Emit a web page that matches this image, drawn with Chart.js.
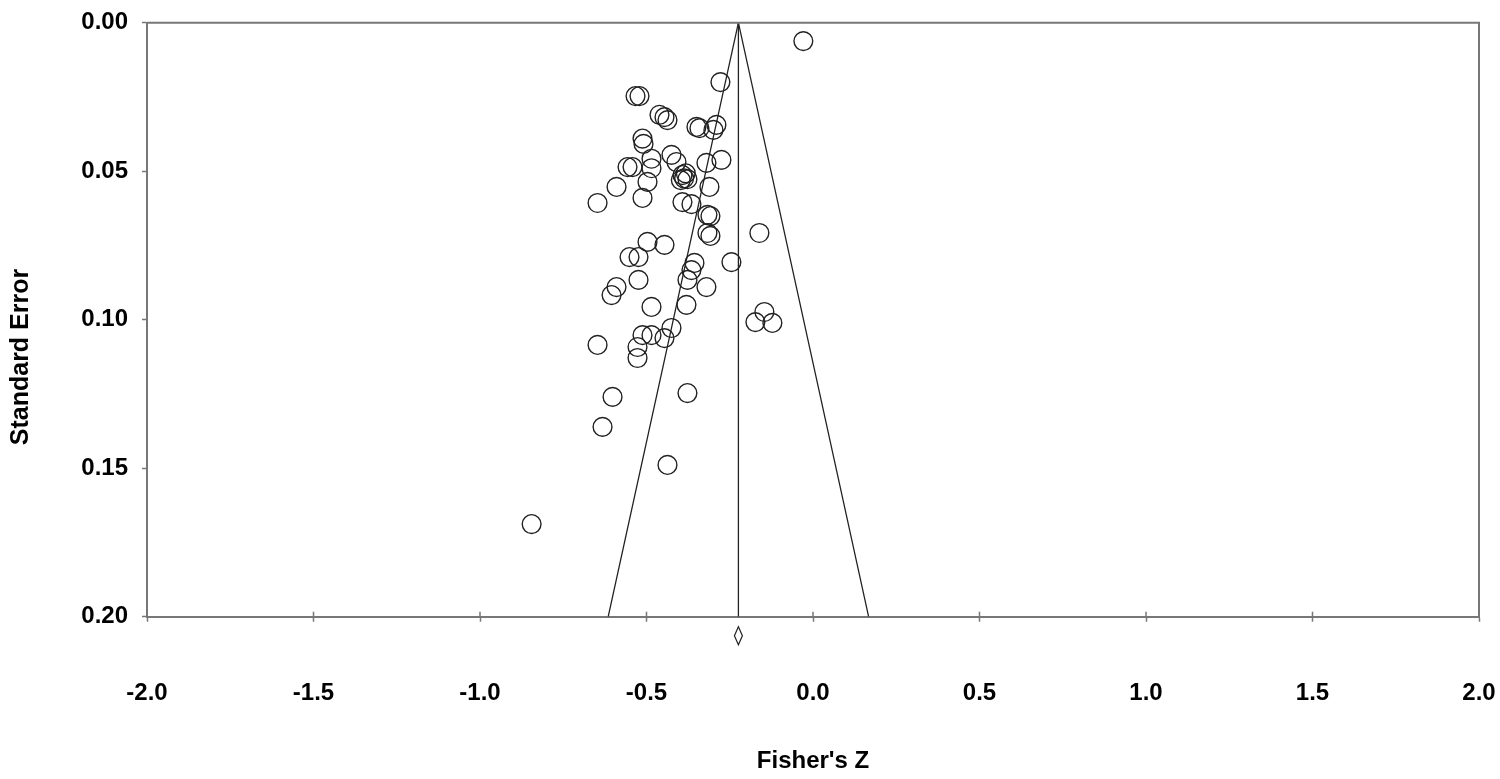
<!DOCTYPE html>
<html>
<head>
<meta charset="utf-8">
<script src="https://cdn.jsdelivr.net/npm/chart.js@4.4.1/dist/chart.umd.min.js"></script>
<style>
  html, body { margin: 0; padding: 0; background: #fff; }
  #wrap { width: 1500px; height: 779px; }
</style>
</head>
<body>
<div id="wrap"><canvas id="funnelChart"></canvas></div>
<script>
// Study effects (Fisher's Z) and their standard errors
const fisherZ = [
  -0.029, -0.278, -0.533, -0.521, -0.461, -0.446, -0.437, -0.350, -0.341, -0.290,
  -0.299, -0.512, -0.509, -0.485, -0.542, -0.557, -0.425, -0.410, -0.485, -0.497,
  -0.512, -0.392, -0.382, -0.387, -0.397, -0.377, -0.320, -0.275, -0.311, -0.590,
  -0.647, -0.392, -0.365, -0.317, -0.308, -0.317, -0.308, -0.161, -0.497, -0.446,
  -0.551, -0.524, -0.245, -0.356, -0.365, -0.377, -0.320, -0.590, -0.605, -0.524,
  -0.485, -0.380, -0.146, -0.173, -0.122, -0.425, -0.512, -0.485, -0.446, -0.527,
  -0.527, -0.647, -0.602, -0.377, -0.632, -0.437, -0.845
];
const stdError = [
  0.0062, 0.0200, 0.0247, 0.0247, 0.0310, 0.0318, 0.0328, 0.0351, 0.0355, 0.0344,
  0.0361, 0.0390, 0.0408, 0.0458, 0.0486, 0.0486, 0.0445, 0.0469, 0.0490, 0.0536,
  0.0590, 0.0513, 0.0507, 0.0524, 0.0530, 0.0527, 0.0472, 0.0462, 0.0553, 0.0553,
  0.0607, 0.0604, 0.0611, 0.0647, 0.0651, 0.0708, 0.0718, 0.0708, 0.0738, 0.0748,
  0.0789, 0.0789, 0.0806, 0.0809, 0.0833, 0.0866, 0.0890, 0.0890, 0.0917, 0.0866,
  0.0957, 0.0950, 0.0974, 0.1008, 0.1011, 0.1028, 0.1052, 0.1052, 0.1062, 0.1092,
  0.1129, 0.1085, 0.1260, 0.1247, 0.1361, 0.1489, 0.1688
];

// Funnel outline and pooled estimate
const funnelZ = [-0.615, -0.224, 0.167];
const funnelSE = [0.20, 0.00, 0.20];
const pooledZ = -0.224;
const pooledCI = [-0.236, -0.212];

const xTicks = [-2.0, -1.5, -1.0, -0.5, 0.0, 0.5, 1.0, 1.5, 2.0];
const yTicks = [0.00, 0.05, 0.10, 0.15, 0.20];

const FONT = "'Liberation Sans', Arial, sans-serif";
const INK = '#222222';
const AXIS = '#777777';

// box round the plot, inward halves of x ticks, pooled diamond, y title
const extras = {
  id: 'extras',
  afterDraw(chart) {
    const { ctx, chartArea: a, scales } = chart;
    const xs = scales.x;
    ctx.save();
    ctx.strokeStyle = AXIS;
    ctx.lineWidth = 2;
    ctx.beginPath();
    ctx.moveTo(a.left, a.top);
    ctx.lineTo(a.right, a.top);
    ctx.lineTo(a.right, a.bottom);
    ctx.stroke();

    ctx.lineWidth = 1.5;
    xs.ticks.forEach((t, i) => {
      const px = xs.getPixelForTick(i);
      ctx.beginPath();
      ctx.moveTo(px, a.bottom);
      ctx.lineTo(px, a.bottom - 5);
      ctx.stroke();
    });

    // pooled estimate diamond under the axis
    const xc = xs.getPixelForValue(pooledZ);
    const xl = xs.getPixelForValue(pooledCI[0]);
    const xr = xs.getPixelForValue(pooledCI[1]);
    const yc = a.bottom + 19;
    ctx.strokeStyle = INK;
    ctx.lineWidth = 1.2;
    ctx.beginPath();
    ctx.moveTo(xl, yc);
    ctx.lineTo(xc, yc - 9);
    ctx.lineTo(xr, yc);
    ctx.lineTo(xc, yc + 9);
    ctx.closePath();
    ctx.stroke();

    // y axis title
    ctx.fillStyle = '#000';
    ctx.font = 'bold 25px ' + FONT;
    ctx.textAlign = 'center';
    ctx.textBaseline = 'middle';
    ctx.translate(21, 357);
    ctx.rotate(-Math.PI / 2);
    ctx.fillText('Standard Error', 0, 0);
    ctx.restore();
  }
};

const ctx = document.getElementById('funnelChart').getContext('2d');
new Chart(ctx, {
  type: 'scatter',
  data: {
    datasets: [
      {
        label: 'Studies',
        data: fisherZ.map((z, i) => ({ x: z, y: stdError[i] })),
        pointStyle: 'circle',
        pointRadius: 9.4,
        pointHoverRadius: 9.4,
        pointBorderWidth: 1.4,
        pointBackgroundColor: 'rgba(0,0,0,0)',
        pointBorderColor: INK,
        showLine: false
      },
      {
        label: 'Funnel',
        data: funnelZ.map((z, i) => ({ x: z, y: funnelSE[i] })),
        showLine: true,
        borderColor: INK,
        borderWidth: 1.3,
        pointRadius: 0,
        fill: false
      },
      {
        label: 'Pooled',
        data: [{ x: pooledZ, y: 0 }, { x: pooledZ, y: 0.2 }],
        showLine: true,
        borderColor: INK,
        borderWidth: 1.3,
        pointRadius: 0,
        fill: false
      }
    ]
  },
  options: {
    responsive: true,
    maintainAspectRatio: false,
    animation: false,
    layout: {
      autoPadding: false,
      padding: { left: 0, right: 21, top: 22.7, bottom: 0 }
    },
    plugins: {
      legend: { display: false },
      tooltip: { enabled: false }
    },
    scales: {
      x: {
        type: 'linear',
        min: -2,
        max: 2,
        afterFit: (s) => {
          s.height = 162.3;
          s.paddingLeft = 0;
          s.paddingRight = 0;
        },
        afterBuildTicks: (s) => { s.ticks = xTicks.map(v => ({ value: v })); },
        grid: {
          drawOnChartArea: false,
          drawTicks: true,
          tickLength: 5,
          tickWidth: 1.5,
          color: AXIS
        },
        border: { display: true, color: AXIS, width: 2 },
        ticks: {
          padding: 57,
          color: '#000',
          font: { family: FONT, size: 24, weight: 'bold' },
          callback: (v) => Number(v).toFixed(1)
        },
        title: {
          display: true,
          text: "Fisher's Z",
          color: '#000',
          padding: { top: 0, bottom: 3 },
          font: { family: FONT, size: 24, weight: 'bold' }
        }
      },
      y: {
        type: 'linear',
        min: 0,
        max: 0.2,
        reverse: true,
        afterFit: (s) => {
          s.width = 147;
          s.paddingTop = 0;
          s.paddingBottom = 0;
        },
        afterBuildTicks: (s) => { s.ticks = yTicks.map(v => ({ value: v })); },
        grid: {
          drawOnChartArea: false,
          drawTicks: true,
          tickLength: 5,
          tickWidth: 1.5,
          color: AXIS
        },
        border: { display: true, color: AXIS, width: 2 },
        ticks: {
          padding: 14,
          color: '#000',
          font: { family: FONT, size: 24, weight: 'bold' },
          callback: (v) => Number(v).toFixed(2)
        }
      }
    }
  },
  plugins: [extras]
});
</script>
</body>
</html>
